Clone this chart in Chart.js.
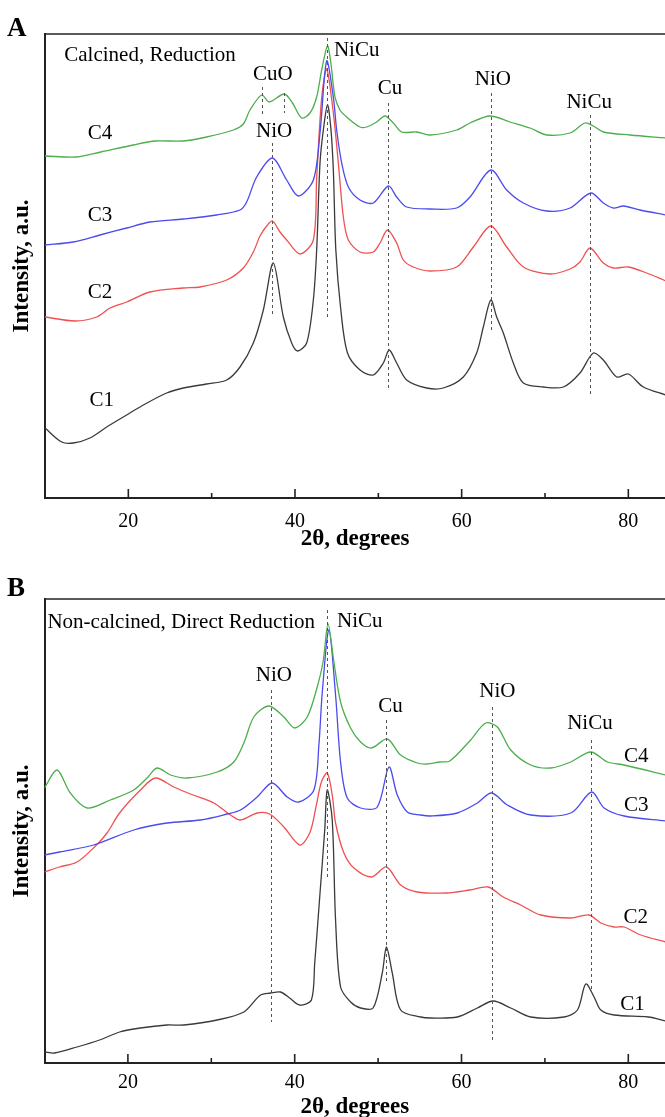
<!DOCTYPE html>
<html><head><meta charset="utf-8">
<script src="https://cdn.jsdelivr.net/npm/chart.js@4.4.0/dist/chart.umd.min.js"></script>
<style>
html,body{margin:0;padding:0;background:#fff;}
#wrap{position:relative;width:665px;height:1117px;overflow:hidden;background:#fff;}
.pane{position:absolute;left:0;width:665px;}
</style></head><body>
<div id="wrap">
<div class="pane" style="top:0;height:560px"><canvas id="cA"></canvas></div>
<div class="pane" style="top:560px;height:562px"><canvas id="cB"></canvas></div>
</div>
<script>
// ---------- Panel A : Calcined, Reduction (2θ in degrees, intensity in a.u.) ----------
const A_C4_x = [10,13.8,16.7,20.6,23.2,26.6,29.4,32.6,33.8,34.6,36.0,36.9,38.7,39.7,40.8,41.8,42.6,43.2,43.9,44.3,44.8,45.4,46.2,47.8,48.6,49.8,50.8,51.8,52.8,54.6,56.2,59.4,61,63.4,65.8,68.2,70.2,73,74.8,75.8,77,80.2,84.5];
const A_C4_y = [342,341,346,353,357,357,361,368,374,388,403,396,404,395,380,385,401,428,452,435,401,388,381,371,371,376,382,375,366,366,363,368,375,382,376,370,363,365,375,372,366,363,360];
const A_C3_x = [10,13.4,16.6,19.8,22.6,26.6,30.6,33.4,34.2,35.4,37.3,39.0,40.4,42.2,43.0,43.8,44.6,45.0,45.6,46.4,47.8,49.4,51.2,52.2,53.4,56.2,59.4,61,63.5,65.4,67.4,70.2,73,75.5,77,78.2,79.4,81.4,84.5];
const A_C3_y = [253,256,263,270,276,279,283,288,296,321,340,318,302,318,365,437,401,368,335,311,298,295,312,301,291,289,290,301,328,308,295,287,290,305,295,290,292,288,283];
const A_C2_x = [10,13.6,16.2,17.8,19.8,22.6,26.6,28.6,31.8,33.8,35.0,35.8,36.6,37.3,38.2,39.0,40.6,42.2,42.6,43.2,43.8,44.6,45.2,45.8,46.4,47.8,49.4,50.2,51.1,52.2,53.0,54.2,56.2,59.4,61.4,63.5,65.4,67.4,70.6,73,74.2,75.4,77,78.2,80,82.2,84.5];
const A_C2_y = [181,177,181,190,196,206,210,211,218,230,246,262,272,277,266,258,244,258,320,400,429,385,335,281,258,246,246,255,268,255,238,231,227,231,251,272,251,231,224,229,236,250,235,230,231,225,217];
const A_C1_x = [10,12,13.4,15.4,17.4,19.8,21.8,24.6,26.6,29.4,31.8,33.4,35.0,36.2,37.4,38.6,39.6,40.3,41.4,42.2,42.6,43.0,43.4,43.9,44.3,44.6,44.9,45.5,46.3,47.8,49.4,50.6,51.3,52.2,53.4,55.8,57.8,60.2,61.8,62.6,63.5,64.2,65.0,66.2,67.4,69.8,72.2,74.2,75.8,77,78.6,80,81.8,84.5];
const A_C1_y = [70,56,55,60,71,83,93,105,110,114,118,131,155,188,235,181,155,147,155,198,248,335,368,393,370,328,248,188,145,128,123,135,148,135,118,110,110,121,145,171,198,181,165,135,115,111,111,125,145,138,121,124,111,103];

// ---------- Panel B : Non-calcined, Direct Reduction ----------
const B_C4_x = [10,11.5,13.1,15.1,17.9,20.7,22.3,23.5,25.1,27.1,30.7,32.7,33.9,35.1,36.9,38.7,40.0,41.5,42.7,43.4,44.0,44.7,45.5,46.7,47.9,49.2,51.1,52.7,54.7,55.8,57.4,58.6,61.1,62.9,64.3,65.9,68.3,70.7,73.1,75.5,77.5,79.5,84.5];
const B_C4_y = [275,293,270,255,263,273,285,295,288,285,291,301,320,346,357,346,335,346,376,401,439,401,361,335,321,315,324,308,300,299,301,302,323,340,336,313,298,295,301,311,301,298,288];
const B_C3_x = [10,11.8,15.9,20.7,24.7,28.7,31.9,33.5,35.5,37.3,39.1,40.5,42.3,42.9,43.3,44.1,44.9,45.5,46.3,47.9,49.9,51.3,52.3,53.5,55.1,56.3,59.5,61.9,63.6,65.5,68.3,73.1,75.6,77.1,79.5,84.5];
const B_C3_y = [208,211,218,233,240,243,249,253,266,280,266,261,273,318,370,433,368,301,265,255,256,296,268,251,248,247,250,260,270,258,248,250,271,255,247,242];
const B_C2_x = [10,11.8,13.9,16.0,17.5,19.0,21.5,23.3,25.5,27.8,30.3,32.3,33.5,35.5,37.0,38.7,40.6,41.8,42.6,43.2,43.9,44.5,44.9,45.9,47.1,49.2,51.0,52.7,54.7,58.2,61.0,63.2,65.0,67.1,69.5,73.1,75.3,76.7,78.3,79.5,81.5,84.5];
const B_C2_y = [191,196,201,216,230,250,273,285,276,268,260,248,243,250,249,236,218,230,258,281,290,268,240,210,195,186,196,178,171,170,173,176,166,158,148,145,148,140,136,136,128,121];
const B_C1_x = [10,11.2,13.9,16.6,19.0,21.5,24.7,26.7,30.7,33.9,35.9,37.1,38.3,39.4,40.6,42.0,42.4,43.0,43.6,43.9,44.5,44.9,45.5,46.7,47.9,49.4,50.5,51.0,51.7,52.7,55.1,56.3,59.5,61.9,63.8,65.9,68.3,72.3,73.9,74.9,75.9,76.7,78.3,82.4,84.5];
const B_C1_y = [11,10,16,23,31,35,38,38,43,51,68,70,71,65,58,63,100,166,233,273,243,143,76,61,55,55,90,116,90,53,46,45,46,55,62,55,46,46,53,79,66,53,48,46,42];

// tick labels / axis
const xTickValues = [20,40,60,80];
const xMinorValues = [30,50,70];
const xMin = 10, xMax = 84.4, yMin = 0, yMax = 464;

// reference (dashed) peak positions, 2θ and extent in a.u.
const A_refX = [36.0,38.7,37.2,43.8,51.2,63.5,75.4];
const A_refTop = [411,405,355,460,395,405,383];
const A_refBot = [383,385,182,180,108,165,103];
const B_refX = [37.1,43.9,51.0,63.6,75.5];
const B_refTop = [373,453,343,356,323];
const B_refBot = [41,186,81,23,70];

// annotation texts
const A_labels = ['Calcined, Reduction','CuO','NiO','NiCu','Cu','NiO','NiCu','C4','C3','C2','C1'];
const A_labX = [22.6,37.35,37.5,47.4,51.4,63.75,75.3,16.6,16.6,16.6,16.8];
const A_labY = [443,424,367,448,410,419,396,365,283,206,98];
const B_labels = ['Non-calcined, Direct Reduction','NiCu','NiO','Cu','NiO','NiCu','C4','C3','C2','C1'];
const B_labX = [26.4,47.8,37.5,51.5,64.3,75.4,80.95,80.95,80.9,80.5];
const B_labY = [441,442,388,357,372,340,307,258,146,59];

const seriesNames = ['C1','C2','C3','C4'];
const colors = {C1:'#3a3a3a', C2:'#f05050', C3:'#4a4aee', C4:'#4cae4c'};

Chart.defaults.font.family = "'Liberation Serif','Times New Roman',serif";
Chart.defaults.color = '#000';

function pts(xs, ys){ return xs.map((x,i)=>({x:x, y:ys[i]})); }

function makePanel(id, letter, data, refX, refTop, refBot, labels, labX, labY, cfg){
  const deco = {
    id:'deco'+letter,
    afterDatasetsDraw(chart){
      const ctx = chart.ctx, xs = chart.scales.x, ys = chart.scales.y;
      ctx.save();
      ctx.strokeStyle = '#555'; ctx.lineWidth = 1; ctx.setLineDash([3,3]);
      refX.forEach((v,i)=>{
        const px = Math.round(xs.getPixelForValue(v))+0.5;
        ctx.beginPath(); ctx.moveTo(px, ys.getPixelForValue(refTop[i])); ctx.lineTo(px, ys.getPixelForValue(refBot[i])); ctx.stroke();
      });
      ctx.setLineDash([]);
      ctx.fillStyle = '#000'; ctx.font = "21px 'Liberation Serif'"; ctx.textAlign='center'; ctx.textBaseline='middle';
      labels.forEach((t,i)=>{ ctx.fillText(t, xs.getPixelForValue(labX[i]), ys.getPixelForValue(labY[i])); });
      ctx.restore();
    },
    afterDraw(chart){
      const ctx = chart.ctx, xs = chart.scales.x, ca = chart.chartArea;
      ctx.save();
      ctx.strokeStyle = '#222';
      ctx.lineWidth = 1.5;
      ctx.beginPath(); ctx.moveTo(ca.left, ca.top); ctx.lineTo(chart.width, ca.top); ctx.stroke();
      ctx.lineWidth = 1.6;
      xTickValues.forEach(v=>{ const px=xs.getPixelForValue(v); ctx.beginPath(); ctx.moveTo(px, ca.bottom); ctx.lineTo(px, ca.bottom-9); ctx.stroke(); });
      xMinorValues.forEach(v=>{ const px=xs.getPixelForValue(v); ctx.beginPath(); ctx.moveTo(px, ca.bottom); ctx.lineTo(px, ca.bottom-5); ctx.stroke(); });
      ctx.fillStyle='#000'; ctx.font = "bold 27px 'Liberation Serif'"; ctx.textAlign='left'; ctx.textBaseline='alphabetic';
      ctx.fillText(letter, 7, cfg.letterY);
      ctx.restore();
    }
  };
  return new Chart(document.getElementById(id), {
    type:'line',
    data:{ datasets: seriesNames.map(n=>({
      label:n, data:data[n], borderColor:colors[n], borderWidth:1.3, pointRadius:0,
      fill:false, tension:0.3
    })).reverse() },
    options:{
      responsive:true, maintainAspectRatio:false, animation:false,
      layout:{ padding:{ top:cfg.top, left:0, right:0, bottom:0 } },
      plugins:{ legend:{display:false}, tooltip:{enabled:false} },
      scales:{
        x:{ type:'linear', min:xMin, max:xMax,
            afterFit(s){ s.height = cfg.xh; },
            ticks:{ stepSize:10, includeBounds:false, autoSkip:false, maxRotation:0, padding:cfg.tkpad,
                    font:{size:20}, color:'#000',
                    callback:(v)=> xTickValues.includes(v) ? String(v) : '' },
            grid:{ display:false, drawTicks:false },
            border:{ display:true, color:'#222', width:2 },
            title:{ display:true, text:'2θ, degrees', font:{size:23, weight:'bold'}, color:'#000', padding:{top:0,bottom:cfg.tpad} } },
        y:{ type:'linear', min:yMin, max:yMax,
            afterFit(s){ s.width = cfg.yw; },
            ticks:{ display:false },
            grid:{ display:false, drawTicks:false },
            border:{ display:true, color:'#222', width:2 },
            title:{ display:true, text:'Intensity, a.u.', font:{size:23, weight:'bold'}, color:'#000', padding:{top:8,bottom:8} } }
      }
    },
    plugins:[deco]
  });
}

makePanel('cA','A',
  {C1:pts(A_C1_x,A_C1_y), C2:pts(A_C2_x,A_C2_y), C3:pts(A_C3_x,A_C3_y), C4:pts(A_C4_x,A_C4_y)},
  A_refX, A_refTop, A_refBot, A_labels, A_labX, A_labY,
  {top:34, xh:62, yw:45, tpad:7, tkpad:12, letterY:36});
makePanel('cB','B',
  {C1:pts(B_C1_x,B_C1_y), C2:pts(B_C2_x,B_C2_y), C3:pts(B_C3_x,B_C3_y), C4:pts(B_C4_x,B_C4_y)},
  B_refX, B_refTop, B_refBot, B_labels, B_labX, B_labY,
  {top:39, xh:59, yw:44.5, tpad:1, tkpad:8, letterY:36});
</script>
</body></html>
